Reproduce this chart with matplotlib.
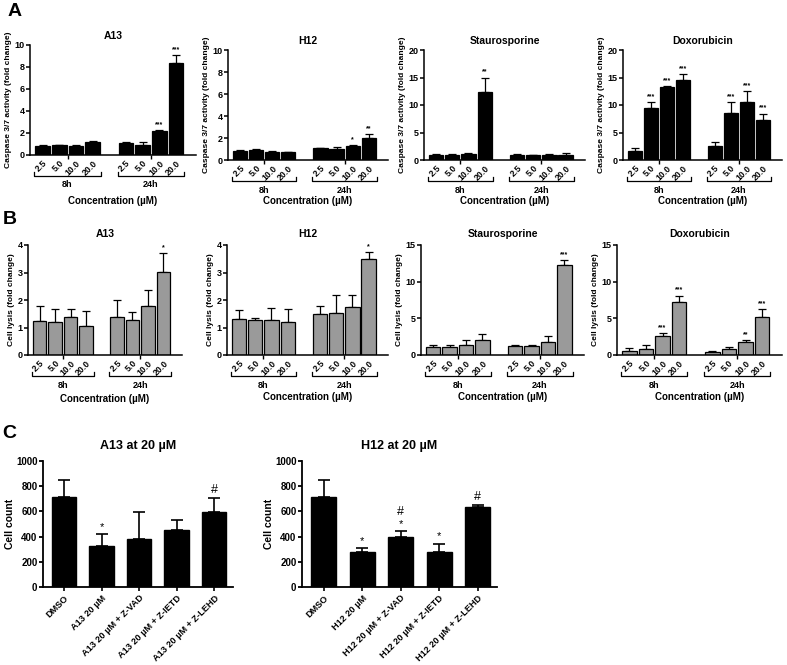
import numpy as np
import matplotlib
matplotlib.use("Agg")
import matplotlib.pyplot as plt
from matplotlib.transforms import blended_transform_factory

plt.rcParams['font.family'] = ['Liberation Sans', 'DejaVu Sans']
plt.rcParams['font.weight'] = 'bold'
plt.rcParams['axes.labelweight'] = 'bold'
plt.rcParams['axes.titleweight'] = 'bold'

# ---------------- data ----------------
conc_labels = ["2.5", "5.0", "10.0", "20.0"]
time_labels = ["8h", "24h"]

# Panel A: caspase 3/7 activity (fold change)
casp_A13 = [0.85, 0.87, 0.85, 1.2, 1.1, 0.95, 2.2, 8.4]
casp_A13_err = [0.03, 0.05, 0.1, 0.04, 0.12, 0.2, 0.08, 0.7]
casp_A13_sig = ["", "", "", "", "", "", "***", "***"]

casp_H12 = [0.85, 0.92, 0.72, 0.72, 1.05, 1.0, 1.27, 2.03]
casp_H12_err = [0.1, 0.08, 0.06, 0.05, 0.08, 0.2, 0.07, 0.35]
casp_H12_sig = ["", "", "", "", "", "", "*", "**"]

casp_Stau = [1.0, 1.0, 1.1, 12.4, 0.95, 0.9, 0.9, 1.0]
casp_Stau_err = [0.08, 0.06, 0.2, 2.6, 0.06, 0.08, 0.15, 0.2]
casp_Stau_sig = ["", "", "", "**", "", "", "", ""]

casp_Doxo = [1.6, 9.4, 13.2, 14.6, 2.6, 8.5, 10.6, 7.3]
casp_Doxo_err = [0.55, 1.1, 0.25, 1.0, 0.6, 2.0, 1.9, 1.1]
casp_Doxo_sig = ["", "***", "***", "***", "", "***", "***", "***"]

# Panel B: cell lysis (fold change)
lysis_A13 = [1.24, 1.2, 1.38, 1.07, 1.37, 1.28, 1.8, 3.03]
lysis_A13_err = [0.55, 0.47, 0.29, 0.54, 0.62, 0.3, 0.55, 0.68]
lysis_A13_sig = ["", "", "", "", "", "", "", "*"]

lysis_H12 = [1.31, 1.26, 1.26, 1.2, 1.5, 1.54, 1.75, 3.5]
lysis_H12_err = [0.33, 0.07, 0.44, 0.46, 0.28, 0.65, 0.42, 0.25]
lysis_H12_sig = ["", "", "", "", "", "", "", "*"]

lysis_Stau = [1.14, 1.1, 1.4, 2.1, 1.23, 1.2, 1.73, 12.3]
lysis_Stau_err = [0.18, 0.26, 0.65, 0.7, 0.17, 0.2, 0.9, 0.6]
lysis_Stau_sig = ["", "", "", "", "", "", "", "***"]

lysis_Doxo = [0.55, 0.8, 2.64, 7.27, 0.36, 0.8, 1.73, 5.23]
lysis_Doxo_err = [0.35, 0.56, 0.31, 0.83, 0.24, 0.34, 0.32, 1.04]
lysis_Doxo_sig = ["", "", "***", "***", "", "", "**", "***"]

# Panel C: cell count
c_A13_labels = ["DMSO", "A13 20 µM", "A13 20 µM + Z-VAD", "A13 20 µM + Z-IETD", "A13 20 µM + Z-LEHD"]
c_A13 = [717, 328, 378, 455, 598]
c_A13_err = [135, 90, 215, 79, 108]
c_A13_star = ["", "*", "", "", ""]
c_A13_hash = ["", "", "", "", "#"]

c_H12_labels = ["DMSO", "H12 20 µM", "H12 20 µM + Z-VAD", "H12 20 µM + Z-IETD", "H12 20 µM + Z-LEHD"]
c_H12 = [717, 275, 400, 275, 638]
c_H12_err = [135, 37, 42, 69, 15]
c_H12_star = ["", "*", "*", "*", ""]
c_H12_hash = ["", "", "#", "", "#"]

# ---------------- layout helpers ----------------
W, H = 787, 665
fig = plt.figure(figsize=(W / 100, H / 100), dpi=100)


def rect(xl, xr, yt, yb):
    return [xl / W, 1 - yb / H, (xr - xl) / W, (yb - yt) / H]


def style_axes(ax, lw=1.1):
    for s in ["top", "right"]:
        ax.spines[s].set_visible(False)
    for s in ["left", "bottom"]:
        ax.spines[s].set_linewidth(lw)
    ax.tick_params(axis='y', direction='out', length=3, width=lw, labelsize=6.5, pad=1)


def group_panel(r, vals, errs, sig, ylim, yticks, title, ylabel, face, bracket_y,
                label_y, conc_y, title_pad=4):
    ax = fig.add_axes(r)
    style_axes(ax)
    n = len(conc_labels)
    x = np.concatenate([np.arange(n) + g * (n + 1) for g in range(len(time_labels))])
    vals = np.asarray(vals)
    errs = np.asarray(errs)
    ax.bar(x, vals, width=0.88, color=face, edgecolor='black', linewidth=0.9, zorder=2)
    ax.errorbar(x, vals, yerr=[np.zeros_like(errs), errs], fmt='none', ecolor='black',
                elinewidth=0.9, capsize=3, capthick=0.9, zorder=1)
    for xi, v, e, s in zip(x, vals, errs, sig):
        if s:
            ax.annotate(s, (xi, v + e), xytext=(0, 1.5), textcoords='offset points',
                        ha='center', va='bottom', fontsize=5)
    ax.set_xlim(-0.75, x[-1] + 1.2)
    ax.set_ylim(*ylim)
    ax.set_yticks(yticks)
    ax.set_xticks(x)
    ax.set_xticklabels(conc_labels * len(time_labels), rotation=45, ha='right',
                       rotation_mode='anchor', fontsize=6.3)
    ax.tick_params(axis='x', which='major', length=0, pad=2.5)
    ax.set_xticks([g * (n + 1) + (n - 1) / 2 for g in range(len(time_labels))], minor=True)
    ax.tick_params(axis='x', which='minor', length=3, width=1.0, direction='out')
    ax.set_title(title, fontsize=7.5, pad=title_pad)
    ax.set_ylabel(ylabel, fontsize=6, labelpad=2)
    tr = blended_transform_factory(ax.transData, ax.transAxes)
    for g, tl in enumerate(time_labels):
        x0 = g * (n + 1) - 0.5
        x1 = g * (n + 1) + n - 0.5
        ax.plot([x0, x0, x1, x1], [bracket_y + 0.035, bracket_y, bracket_y, bracket_y + 0.035],
                color='black', lw=0.9, transform=tr, clip_on=False)
        ax.text((x0 + x1) / 2, label_y, tl, transform=tr, ha='center', va='center', fontsize=6.5)
    ax.text(0.5, conc_y, "Concentration (µM)", transform=ax.transAxes, ha='center',
            va='center', fontsize=7)
    return ax


casp_lab = "Caspase 3/7 activity (fold change)"
lys_lab = "Cell lysis (fold change)"

# Panel A
group_panel(rect(30, 196, 45, 155), casp_A13, casp_A13_err, casp_A13_sig, (0, 10),
            [0, 2, 4, 6, 8, 10], "A13", casp_lab, 'black', -0.19, -0.27, -0.42)
group_panel(rect(228, 388, 50, 160), casp_H12, casp_H12_err, casp_H12_sig, (0, 10),
            [0, 2, 4, 6, 8, 10], "H12", casp_lab, 'black', -0.19, -0.28, -0.37)
group_panel(rect(424, 585, 50, 160), casp_Stau, casp_Stau_err, casp_Stau_sig, (0, 20),
            [0, 5, 10, 15, 20], "Staurosporine", casp_lab, 'black', -0.19, -0.28, -0.37)
group_panel(rect(623, 782, 50, 160), casp_Doxo, casp_Doxo_err, casp_Doxo_sig, (0, 20),
            [0, 5, 10, 15, 20], "Doxorubicin", casp_lab, 'black', -0.19, -0.28, -0.37)

# Panel B
gray = '#9a9a9a'
group_panel(rect(28, 182, 245, 355), lysis_A13, lysis_A13_err, lysis_A13_sig, (0, 4),
            [0, 1, 2, 3, 4], "A13", lys_lab, gray, -0.19, -0.28, -0.40, title_pad=6)
group_panel(rect(227, 388, 245, 355), lysis_H12, lysis_H12_err, lysis_H12_sig, (0, 4),
            [0, 1, 2, 3, 4], "H12", lys_lab, gray, -0.19, -0.28, -0.38, title_pad=6)
group_panel(rect(421, 584, 245, 355), lysis_Stau, lysis_Stau_err, lysis_Stau_sig, (0, 15),
            [0, 5, 10, 15], "Staurosporine", lys_lab, gray, -0.19, -0.28, -0.38, title_pad=6)
group_panel(rect(617, 782, 245, 355), lysis_Doxo, lysis_Doxo_err, lysis_Doxo_sig, (0, 15),
            [0, 5, 10, 15], "Doxorubicin", lys_lab, gray, -0.19, -0.28, -0.38, title_pad=6)


# Panel C
def count_panel(r, labels, vals, errs, stars, hashes, title):
    ax = fig.add_axes(r)
    style_axes(ax, lw=1.3)
    x = np.arange(len(labels))
    vals = np.asarray(vals)
    errs = np.asarray(errs)
    ax.bar(x, vals, width=0.65, color='black', edgecolor='black', zorder=2)
    ax.errorbar(x, vals, yerr=[np.zeros_like(errs), errs], fmt='none', ecolor='black',
                elinewidth=1.2, capsize=4.5, capthick=1.2, zorder=1)
    for xi, v, e, s, h in zip(x, vals, errs, stars, hashes):
        off = 1.5
        if s:
            ax.annotate(s, (xi, v + e), xytext=(0, off), textcoords='offset points',
                        ha='center', va='bottom', fontsize=8, fontweight='normal')
            off += 8
        if h:
            ax.annotate(h, (xi, v + e), xytext=(0, off), textcoords='offset points',
                        ha='center', va='bottom', fontsize=9, fontweight='normal')
    ax.set_xlim(-0.56, len(labels) - 0.5)
    ax.set_ylim(0, 1000)
    ax.set_yticks([0, 200, 400, 600, 800, 1000])
    ax.tick_params(axis='y', labelsize=7)
    ax.set_xticks(x)
    ax.set_xticklabels(labels, rotation=45, ha='right', rotation_mode='anchor', fontsize=6.6)
    ax.tick_params(axis='x', length=3, width=1.2, pad=1.5)
    ax.set_ylabel("Cell count", fontsize=7.5, labelpad=1)
    ax.set_title(title, fontsize=9, pad=9)
    return ax


count_panel(rect(43, 233, 461, 587), c_A13_labels, c_A13, c_A13_err, c_A13_star, c_A13_hash,
            "A13 at 20 µM")
count_panel(rect(302, 497, 461, 587), c_H12_labels, c_H12, c_H12_err, c_H12_star, c_H12_hash,
            "H12 at 20 µM")

# Panel letters
for letter, px, py in [("A", 15, 11), ("B", 10, 220), ("C", 9, 434)]:
    fig.text(px / W, 1 - py / H, letter, fontsize=14, fontweight='bold', ha='center', va='center')

fig.savefig("out.png", dpi=100)
